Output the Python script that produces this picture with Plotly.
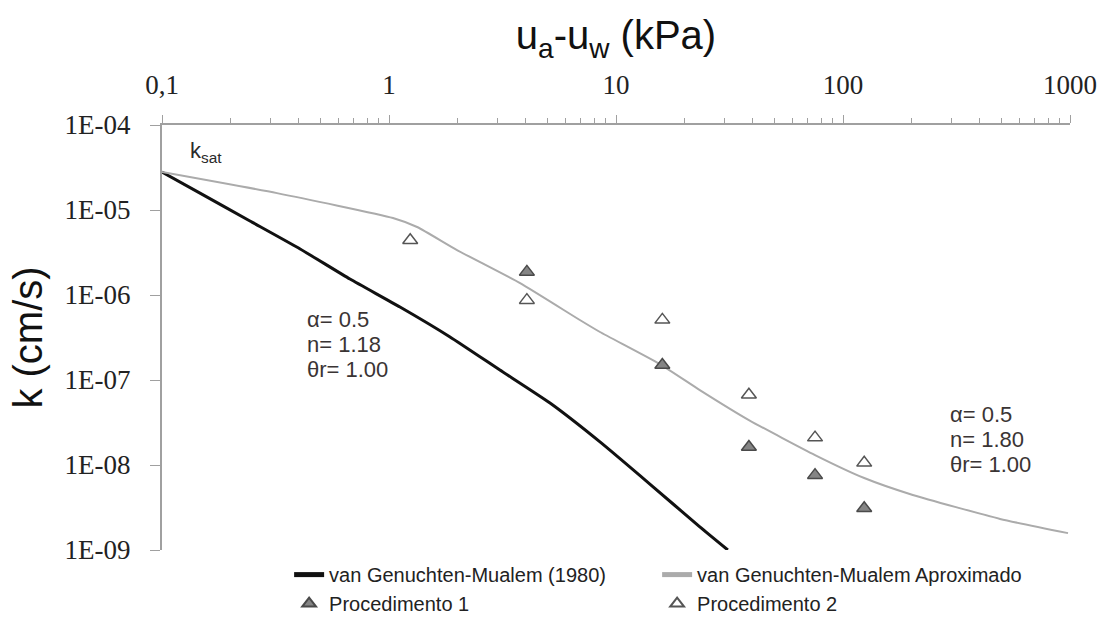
import plotly.graph_objects as go

# Suction (kPa) and hydraulic conductivity (cm/s)
vg1980_suction = [0.1, 0.147, 0.244, 0.406, 0.673, 1.118, 1.857, 3.08, 5.12, 8.5, 14.1, 23.4, 31.1]
vg1980_k = [2.8e-5, 1.58e-5, 7.43e-6, 3.48e-6, 1.54e-6, 7.22e-7, 3.21e-7, 1.31e-7,
            5.36e-8, 1.87e-8, 5.97e-9, 1.87e-9, 1.0e-9]

vgaprox_suction = [0.1, 0.321, 1.041, 1.33, 1.993, 3.78, 6.93, 8.5, 15.6, 23.4, 38.5,
                   75.3, 124, 203, 492, 980]
vgaprox_k = [2.8e-5, 1.58e-5, 8.05e-6, 6.31e-6, 3.38e-6, 1.38e-6, 5.08e-7, 3.67e-7,
             1.54e-7, 7.62e-8, 3.38e-8, 1.31e-8, 7.03e-9, 4.44e-9, 2.32e-9, 1.58e-9]

proc1_suction = [4.05, 16.0, 38.5, 75.3, 124]
proc1_k = [1.87e-6, 1.5e-7, 1.63e-8, 7.6e-9, 3.1e-9]

proc2_suction = [1.24, 4.05, 16.0, 38.5, 75.3, 124]
proc2_k = [4.4e-6, 8.7e-7, 5.1e-7, 6.7e-8, 2.1e-8, 1.06e-8]

x_ticks = [0.1, 1, 10, 100, 1000]
x_ticktext = ["0,1", "1", "10", "100", "1000"]
y_ticks = [1e-4, 1e-5, 1e-6, 1e-7, 1e-8, 1e-9]
y_ticktext = ["1E-04", "1E-05", "1E-06", "1E-07", "1E-08", "1E-09"]

# Fitted parameters shown beside each curve
params_1980 = ["α= 0.5", "n= 1.18", "θr= 1.00"]
params_aprox = ["α= 0.5", "n= 1.80", "θr= 1.00"]

SANS = "Liberation Sans, Arial, sans-serif"
SERIF = "Liberation Serif, Times New Roman, serif"
AXIS_GRAY = "#a0a0a0"

fig = go.Figure()
fig.add_trace(go.Scatter(x=vg1980_suction, y=vg1980_k, mode="lines",
                         name="van Genuchten-Mualem (1980)",
                         line=dict(color="#111111", width=3, shape="spline", smoothing=0.5)))
fig.add_trace(go.Scatter(x=vgaprox_suction, y=vgaprox_k, mode="lines",
                         name="van Genuchten-Mualem Aproximado",
                         line=dict(color="#ababab", width=2, shape="spline", smoothing=0.5)))
fig.add_trace(go.Scatter(x=proc1_suction, y=proc1_k, mode="markers",
                         name="Procedimento 1",
                         marker=dict(symbol="triangle-up", size=13, color="#858585",
                                     line=dict(color="#4a4a4a", width=1.5))))
fig.add_trace(go.Scatter(x=proc2_suction, y=proc2_k, mode="markers",
                         name="Procedimento 2",
                         marker=dict(symbol="triangle-up", size=13, color="#ffffff",
                                     line=dict(color="#555555", width=1.5))))

minor_x = [m * 10 ** e for e in range(-1, 3) for m in range(2, 10)]

fig.update_xaxes(type="log", range=[-1, 3], side="top",
                 tickvals=x_ticks, ticktext=x_ticktext,
                 tickfont=dict(family=SERIF, size=27, color="#222222"),
                 ticks="outside", ticklen=8, tickcolor=AXIS_GRAY, tickwidth=1,
                 ticklabelstandoff=10,
                 minor=dict(tickvals=minor_x, ticks="outside", ticklen=5,
                            tickcolor=AXIS_GRAY, tickwidth=1),
                 showline=True, linecolor=AXIS_GRAY, linewidth=2,
                 showgrid=False, zeroline=False,
                 title=dict(text="u<sub>a</sub>-u<sub>w</sub> (kPa)",
                            font=dict(family=SANS, size=40, color="#111111"),
                            standoff=8))
fig.update_yaxes(type="log", range=[-9, -4],
                 tickvals=y_ticks, ticktext=y_ticktext,
                 tickfont=dict(family=SERIF, size=27, color="#222222"),
                 ticks="outside", ticklen=10, tickcolor=AXIS_GRAY, tickwidth=1,
                 ticklabelstandoff=14,
                 showline=True, linecolor=AXIS_GRAY, linewidth=2,
                 showgrid=False, zeroline=False,
                 title=dict(text="k (cm/s)",
                            font=dict(family=SANS, size=40, color="#111111"),
                            standoff=10))

fig.add_annotation(x=-0.885, y=-4.32, xref="x", yref="y", text="k<sub>sat</sub>",
                   showarrow=False, xanchor="left",
                   font=dict(family=SANS, size=22, color="#2a2a2a"))

ann_font = dict(family=SANS, size=22, color="#3a3434")
line_step = 25 / 85  # 25 px between text lines, in log10 units of the y axis
for i, txt in enumerate(params_1980):
    fig.add_annotation(x=-0.37, y=-6.29 - i * line_step, xref="x", yref="y", text=txt,
                       showarrow=False, xanchor="left", yanchor="middle", font=ann_font)
for i, txt in enumerate(params_aprox):
    fig.add_annotation(x=2.463, y=-7.41 - i * line_step, xref="x", yref="y", text=txt,
                       showarrow=False, xanchor="left", yanchor="middle", font=ann_font)

fig.update_layout(
    width=1106, height=624,
    margin=dict(l=162, r=36, t=125, b=74, autoexpand=False),
    paper_bgcolor="white", plot_bgcolor="white",
    showlegend=True,
    legend=dict(orientation="h", x=0.14, xanchor="left", y=-0.012, yanchor="top",
                entrywidth=323, entrywidthmode="pixels",
                font=dict(family=SANS, size=20, color="#222222"),
                bgcolor="rgba(0,0,0,0)", itemsizing="constant", tracegroupgap=0),
)

fig.write_html("out.html")
